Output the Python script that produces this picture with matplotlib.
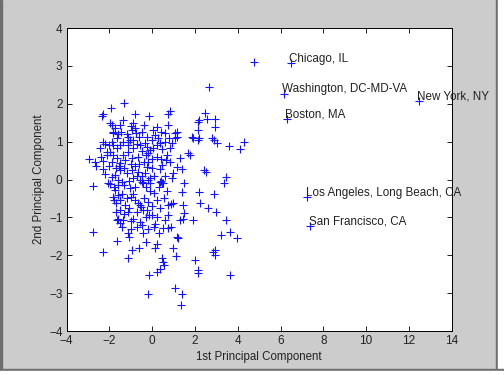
import numpy as np
import matplotlib.pyplot as plt
from matplotlib.patches import Rectangle

plt.rcParams['font.family'] = ['Liberation Sans', 'DejaVu Sans']

# Puntos etiquetados (ciudades)
city_names = ["Chicago, IL", "Washington, DC-MD-VA", "New York, NY", "Boston, MA",
              "Los Angeles, Long Beach, CA", "San Francisco, CA"]
city_x = [6.47, 6.15, 12.45, 6.29, 7.25, 7.39]
city_y = [3.08, 2.27, 2.08, 1.60, -0.47, -1.23]

# Resto de puntos (1a y 2a componente)
pc1 = [4.76, 2.67,
       -1.31, -1.93, -2.33, -2.29, -1.38, -0.79, -0.14, 0.83, 0.75, 2.46, 2.54, 2.95, 2.95,
       2.15, 2.20, 2.15, -1.98, -1.90, -1.82, -1.85, -0.92, 0.21, 0.72, 1.14, -1.46, -1.12,
       -1.04, -1.12, -0.76, -0.60, 0.60, 1.06, 1.84, 1.92, 2.15, 2.20, 2.78, 2.89, 3.60, 4.29,
       4.10, 3.01, -2.29, -2.44, -2.13, -2.94, -2.68, -2.63, -2.32, -2.79, -2.05, -1.98, -1.82,
       -1.77, -1.70, -2.75, -2.32, -1.66, -1.59, -1.51, -1.12, -1.09, -1.66, -1.12, -0.96, -0.62,
       -0.29, 0.13, 0.21, -0.14, -0.18, 0.21, 0.36, 0.44, 0.52, 0.55, 1.06, 1.38, 1.34, 1.14,
       1.22, 0.99, 1.11, 2.00, 2.15, 2.15, 2.86, 2.95, 2.93, 3.64, 3.21, 3.63, 3.98, 3.43, 2.96,
       2.59, 1.92, 1.30, 1.45, 1.48, 1.45, 2.23, 2.19, 2.90, 3.37, 3.43, 2.42, 2.50, 1.50, 1.38,
       1.38, 1.69, 1.76, 1.30, 1.14, 0.83, 0.98, 0.91, 0.36, 0.44, 0.36, 0.44, 0.40, 0.56, 0.75,
       0.86, 0.98, 0.36, 0.75, 0.60, 0.49, 0.75, 0.86, 0.08, 0.13, -0.14, -0.23, -0.57, -0.45,
       -0.91, -1.01, -1.12, -0.65, -0.57, -0.53, -1.27, -1.51, -1.35, -1.43, -1.59, -1.74, -1.04,
       -0.88, -0.81, -0.57, -0.49, -0.42, -0.18, -0.11, -0.34, -0.26, -0.65, -0.96, -1.20, -1.51,
       -1.74, -1.90, -1.59, -1.43, -1.51, -1.27, -0.96, -0.65, -0.18, -0.11, 0.05, 0.21, 0.36,
       0.44, 0.83, 0.94, 1.06, 1.14, 0.67, 0.64, -1.82, -1.66, -1.98, -2.13, -1.82, -1.66, -1.35,
       -1.12, -0.88, -0.57, -0.34, -0.26, -1.12, -1.35, -1.51, -1.66, -0.96, -0.81, -0.50, -0.26,
       -0.03, 0.13, 0.28,
       -1.70, -1.55, -1.30, -1.00, -0.80, -0.60, -0.40, -0.20, 0.00, 0.10, -0.10,
       -1.80, -1.60, -1.30, -1.10, -0.90, -0.70, -0.50, -0.30, -0.10, 0.10, 0.30, 0.50, 0.60, 0.70,
       -1.50, -1.20, -1.00, -0.80, -0.40, -0.20, 0.00, 0.20,
       -1.70, -1.30, -1.10, -0.70, -0.45, -0.30, 0.00, 0.20,
       -1.40, -1.00, -0.70, -0.50, -0.20, 0.30,
       -2.00, -1.90, -1.60, -1.20, -0.90, -0.70, -0.50, -0.30, 0.00, 0.20, 0.40,
       -2.30, -2.00, -1.90, -2.20, -2.40, -2.20,
       -1.75, -1.50, -1.00, -0.40, 0.05, 0.40, 0.60, 0.80]
pc2 = [3.09, 2.45,
       2.03, 1.88, 1.68, 1.72, 1.57, 1.73, 1.68, 1.82, 1.73, 1.75, 1.61, 1.61, 1.39,
       1.53, 1.57, 1.31, 1.48, 1.44, 1.26, 1.22, 1.48, 1.39, 1.44, 1.26, 1.26, 1.13,
       1.04, 1.00, 1.24, 1.13, 1.22, 1.22, 1.13, 1.09, 1.04, 1.09, 1.09, 1.04, 0.88, 1.00,
       0.80, 0.97, 1.00, 0.84, 0.73, 0.54, 0.47, 0.36, 0.28, -0.17, -0.10, -0.13, -0.45,
       -0.54, -0.63, -1.38, -1.91, -1.07, -1.03, -1.16, -1.42, -1.51, -1.62, -2.08, -1.86, -1.82,
       -1.64, -1.82, -1.69, -2.52, -3.03, -2.43, -2.35, -2.08, -2.17, -2.26, -2.87, -3.02, -3.32, -1.51,
       -1.55, -1.82, -2.02, -2.13, -2.39, -2.48, -1.91, -1.99, -1.86, -2.52, -1.47, -1.38, -1.55, -1.07, -0.85,
       -0.76, -1.07, -1.07, -1.03, -0.88, -0.67, -0.63, -0.32, -0.37, -0.10, 0.06, 0.25, 0.21, -0.10, -0.34,
       0.29, 0.69, 0.65, 0.56, 0.34, 0.47, 0.16, 0.03, 0.29, 0.38, -0.06, -0.10, -0.03, -0.50, -0.67,
       -0.65, -0.63, -0.76, -0.93, -1.07, -1.29, -1.29, -1.25, -1.25, -1.18, -0.94, -0.81, -1.11, -1.42,
       -1.03, -1.09, -0.85, -0.63, -0.67, -0.72, -0.67, -0.81, -1.07, -0.37, -0.41, -0.28, -0.23,
       -0.37, -0.19, -0.01, -0.06, -0.10, -0.01, -0.10, 0.16, 0.34, 0.21, 0.25, 0.16, 0.25,
       0.12, 0.06, -0.01, -0.06, 0.43, 0.51, 0.56, 0.60, 0.69, 0.78, 0.82, 0.91, 0.96,
       0.80, 0.82, 0.96, 1.09, 1.13, 0.65, 0.51, 0.91, 0.82, 0.73, 0.65, 0.65, 0.56, 0.65,
       0.73, 0.82, 0.91, 0.96, 0.87, 0.91, 1.00, 0.91, 1.09, 1.31, 1.35, 1.26, 1.13,
       1.04, 1.18, 1.09,
       0.30, 0.35, 0.30, 0.40, 0.35, 0.40, 0.45, 0.45, 0.30, 0.10, 0.05,
       -0.20, -0.15, -0.15, -0.05, 0.05, 0.10, 0.10, -0.20, -0.30, -0.35, -0.20, -0.10, 0.10, -0.30,
       -0.55, -0.50, -0.45, -0.55, -0.50, -0.60, -0.70, -0.55,
       -0.85, -0.90, -0.75, -0.85, -0.80, -1.00, -0.95, -1.00,
       -1.25, -1.30, -1.25, -1.20, -1.30, -1.40,
       0.90, 1.00, 1.20, 1.20, 1.05, 0.95, 0.75, 0.65, 0.55, 0.60, 0.55,
       0.50, 0.35, 0.45, 0.15, 0.60, 0.95,
       1.35, 1.45, 1.40, 1.45, 1.30, 1.25, 1.00, 1.10]

x_ticks = [-4, -2, 0, 2, 4, 6, 8, 10, 12, 14]
y_ticks = [-4, -3, -2, -1, 0, 1, 2, 3, 4]

fig = plt.figure(figsize=(5.04, 3.75), dpi=100, facecolor='#cccccc')
ax = fig.add_axes([0.1323, 0.1173, 0.7640, 0.8080])

ax.plot(pc1, pc2, '+', color='#1414ff', markersize=5.5, markeredgewidth=0.8)
ax.plot(city_x, city_y, '+', color='#1414ff', markersize=5.5, markeredgewidth=0.8)
for name, cx, cy in zip(city_names, city_x, city_y):
    ax.annotate(name, (cx, cy), xytext=(-1, 3), textcoords='offset points',
                ha='left', va='center', fontsize=8.4, color='#222222')

ax.set_xlim(-4, 14)
ax.set_ylim(-4, 4)
ax.set_xticks(x_ticks)
ax.set_yticks(y_ticks)
ax.tick_params(direction='in', length=3.5, width=0.6, top=True, right=True,
               labelsize=8.5, pad=3, labelcolor='#222222')
for s in ax.spines.values():
    s.set_linewidth(0.7)
ax.set_xlabel("1st Principal Component", fontsize=8.3, labelpad=3, color='#222222')
ax.set_ylabel("2nd Principal Component", fontsize=8.3, labelpad=3, color='#222222')

# Marco de la captura
fig.patches.append(Rectangle((0, 0), 0.004, 1, transform=fig.transFigure, color='#6e6e6e'))
fig.patches.append(Rectangle((0.985, 0), 0.004, 1, transform=fig.transFigure, color='#6e6e6e'))
fig.patches.append(Rectangle((0.989, 0), 0.011, 1, transform=fig.transFigure, color='white'))
fig.patches.append(Rectangle((0, 0.0107), 1, 0.005, transform=fig.transFigure, color='#6e6e6e'))
fig.patches.append(Rectangle((0, 0), 1, 0.0107, transform=fig.transFigure, color='white'))

fig.savefig("out.png", dpi=100, facecolor=fig.get_facecolor())
